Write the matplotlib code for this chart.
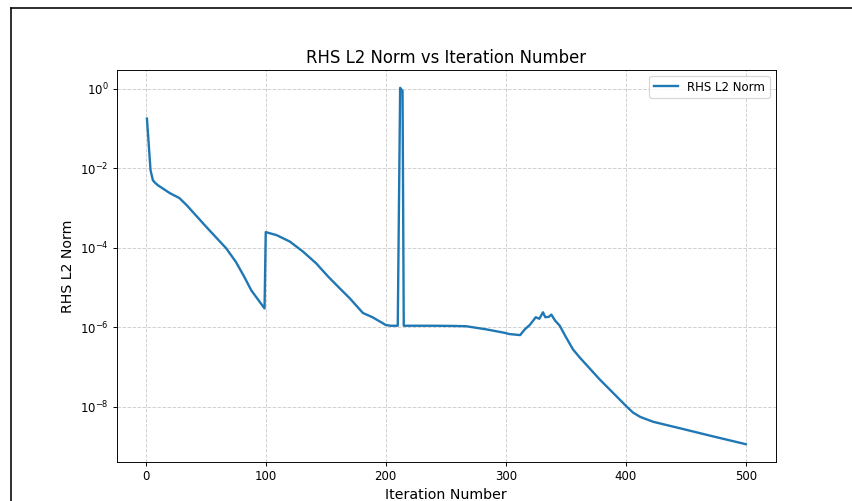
import matplotlib
matplotlib.use("Agg")
import matplotlib.pyplot as plt
from matplotlib.lines import Line2D
from matplotlib.ticker import NullLocator

iterations = [1, 4, 6, 8, 10, 20, 28, 34, 50, 67, 75, 82, 88, 99, 100, 109, 120, 131,
              142, 152, 162, 170, 181, 189, 200, 204, 210, 212, 213, 214, 215, 240, 255,
              267, 284, 299, 303, 312, 316, 320, 325, 328, 331, 333, 336, 338, 341, 345,
              350, 356, 362, 378, 401, 406, 412, 417, 423, 445, 473, 500]
rhs_norm = [0.18, 9e-3, 5e-3, 4.3e-3, 3.8e-3, 2.4e-3, 1.8e-3, 1.2e-3, 3.5e-4, 9.8e-5,
            4.5e-5, 1.9e-5, 8.5e-6, 3.0e-6, 2.5e-4, 2.1e-4, 1.45e-4, 8.1e-5, 4.1e-5,
            1.9e-5, 9.4e-6, 5.4e-6, 2.3e-6, 1.8e-6, 1.15e-6, 1.1e-6, 1.1e-6, 1.07, 0.97,
            0.9, 1.1e-6, 1.1e-6, 1.09e-6, 1.07e-6, 8.9e-7, 7.3e-7, 6.8e-7, 6.4e-7, 9.0e-7,
            1.15e-6, 1.8e-6, 1.65e-6, 2.4e-6, 1.8e-6, 1.85e-6, 2.1e-6, 1.5e-6, 1.1e-6,
            5.8e-7, 2.8e-7, 1.7e-7, 5e-8, 1.0e-8, 7.2e-9, 5.6e-9, 4.9e-9, 4.2e-9, 2.9e-9,
            1.8e-9, 1.15e-9]

W, H, DPI = 852, 501, 85
fig = plt.figure(figsize=(W / DPI, H / DPI), dpi=DPI)
ax = fig.add_axes([117 / W, 1 - 462 / H, (775.7 - 117) / W, (462 - 70) / H])

ax.plot(iterations, rhs_norm, color="#1f77b4", lw=2, label="RHS L2 Norm")
ax.set_yscale("log")
ax.yaxis.set_minor_locator(NullLocator())
ax.grid(True, which="major", ls="--", alpha=0.6)
ax.set_title("RHS L2 Norm vs Iteration Number", fontsize=14)
ax.set_xlabel("Iteration Number", fontsize=12)
ax.set_ylabel("RHS L2 Norm", fontsize=12)
ax.legend(loc="upper right", fontsize=10)

# outer frame (cropped)
x0 = 10.5 / W
y1 = 1 - 8.5 / H
fig.add_artist(Line2D([x0, x0], [0, y1], transform=fig.transFigure, color="black", lw=1.35))
fig.add_artist(Line2D([x0, 1.0], [y1, y1], transform=fig.transFigure, color="black", lw=1.35))

fig.savefig("out.png", dpi=DPI)
